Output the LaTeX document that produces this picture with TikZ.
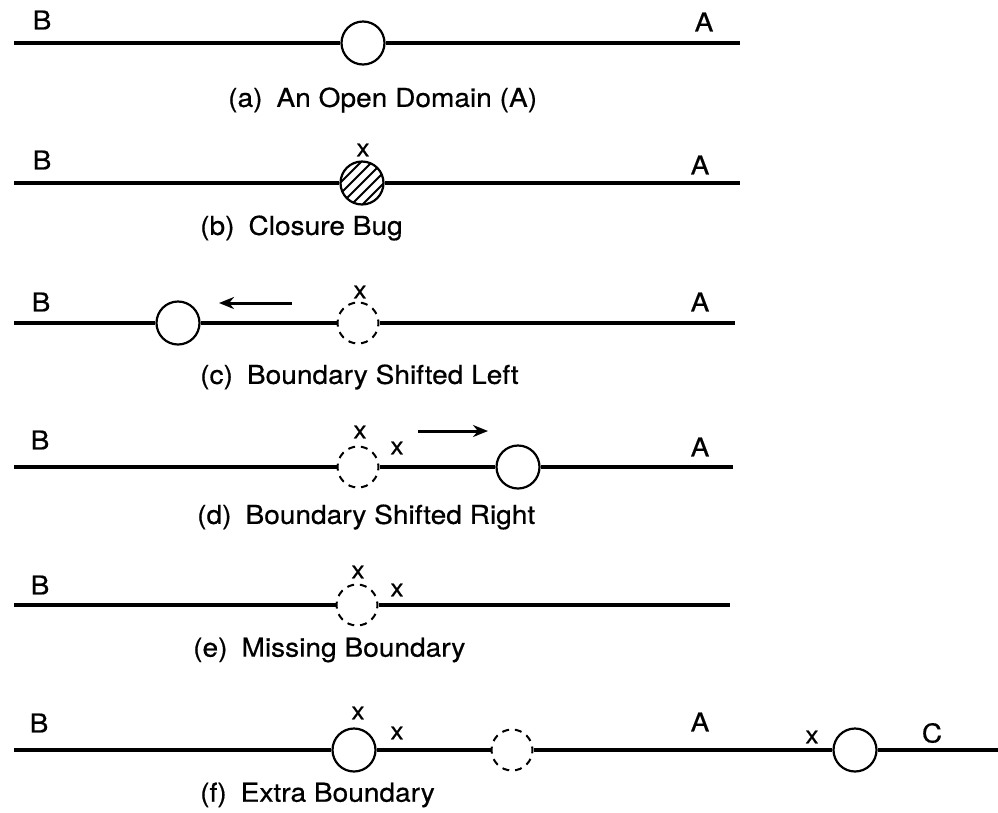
\documentclass[tikz,border=0pt]{standalone}
\usepackage{fontspec}
\setmainfont{TeX Gyre Heros}[FakeStretch=1.08, FakeBold=0.5]
\usetikzlibrary{arrows.meta}
\tikzset{
    bnd/.style={circle, draw=black, line width=2.2pt, minimum size=43pt, inner sep=0pt, fill=white},
    ghost/.style={circle, draw=black, dash pattern=on 7pt off 5.88pt, dash phase=3.5pt, line width=2pt, minimum size=41pt, inner sep=0pt},
    hatched/.style={bnd, path picture={
        \foreach \d in {-22,-11,...,22}
          \draw[line width=2pt] ([shift={(\d-30,30)}]path picture bounding box.center) -- ++(60,-60);}},
    domline/.style={line width=3.2pt},
    lbl/.style={font=\fontsize{26}{30}\selectfont, inner sep=0pt},
    xlbl/.style={font=\fontsize{24}{28}\selectfont, inner sep=0pt},
    capt/.style={font=\fontsize{26}{30}\selectfont, inner sep=0pt, anchor=west},
    arrow/.style={line width=3pt, -{Stealth[length=15pt,width=12pt]}},
}

\begin{document}
\begin{tikzpicture}[x=1pt,y=-1pt]
  \useasboundingbox (0,0) rectangle (998,812);

  % (a) open domain
  \coordinate (aS) at (14,43);
  \coordinate (aE) at (740,43);
  \node[bnd] (oa) at (363,43) {};
  \node[lbl] (aB) at (42,20) {B};
  \node[lbl] (aA) at (704,22) {A};
  \draw[domline] (aS) -- (oa.west);
  \draw[domline] (oa.east) -- (aE);
  \node[capt] (capa) at (228,100) {(a)\hspace{14pt}An Open Domain (A)};

  % (b) closure bug
  \coordinate (bS) at (14,183);
  \coordinate (bE) at (740,183);
  \node[hatched] (hb) at (362,183) {};
  \node[xlbl] (bx) at (363,150) {x};
  \node[lbl] (bB) at (42,160) {B};
  \node[lbl] (bA) at (700,165) {A};
  \draw[domline] (bS) -- (hb.west);
  \draw[domline] (hb.east) -- (bE);
  \node[capt] (capb) at (200,228) {(b)\hspace{14pt}Closure Bug};

  % (c) shifted left
  \coordinate (cS) at (14,323);
  \coordinate (cE) at (735,323);
  \node[bnd] (sc) at (178,323) {};
  \node[ghost] (gc) at (358,323) {};
  \node[xlbl] (cx) at (360,292) {x};
  \node[lbl] (cB) at (41,302) {B};
  \node[lbl] (cA) at (700,302) {A};
  \draw[domline] (cS) -- (sc.west);
  \draw[domline] (sc.east) -- (gc.west);
  \draw[domline] (gc.east) -- (cE);
  \coordinate (cArrS) at (292,303);
  \coordinate (cArrE) at (219,303);
  \draw[arrow] (cArrS) -- (cArrE);
  \node[capt] (capc) at (200,377) {(c)\hspace{14pt}Boundary Shifted Left};

  % (d) shifted right
  \coordinate (dS) at (14,467);
  \coordinate (dE) at (733,467);
  \node[ghost] (gd) at (358,467) {};
  \node[bnd] (sd) at (518,467) {};
  \node[xlbl] (dx1) at (360,432) {x};
  \node[xlbl] (dx2) at (397,448) {x};
  \node[lbl] (dB) at (40,440) {B};
  \node[lbl] (dA) at (700,447) {A};
  \draw[domline] (dS) -- (gd.west);
  \draw[domline] (gd.east) -- (sd.west);
  \draw[domline] (sd.east) -- (dE);
  \coordinate (dArrS) at (418,431);
  \coordinate (dArrE) at (488,431);
  \draw[arrow] (dArrS) -- (dArrE);
  \node[capt] (capd) at (197,517) {(d)\hspace{14pt}Boundary Shifted Right};

  % (e) missing boundary
  \coordinate (eS) at (14,605);
  \coordinate (eE) at (730,605);
  \node[ghost] (ge) at (357,605) {};
  \node[xlbl] (ex1) at (358,572) {x};
  \node[xlbl] (ex2) at (397,590) {x};
  \node[lbl] (eB) at (40,585) {B};
  \draw[domline] (eS) -- (ge.west);
  \draw[domline] (ge.east) -- (eE);
  \node[capt] (cape) at (193,650) {(e)\hspace{14pt}Missing Boundary};

  % (f) extra boundary
  \coordinate (fS) at (14,750);
  \coordinate (fE) at (998,750);
  \node[bnd] (sf1) at (354,750) {};
  \node[ghost] (gf) at (512,750) {};
  \node[bnd] (sf2) at (855,750) {};
  \node[xlbl] (fx1) at (358,713) {x};
  \node[xlbl] (fx2) at (397,733) {x};
  \node[xlbl] (fx3) at (812,737) {x};
  \node[lbl] (fB) at (39,723) {B};
  \node[lbl] (fA) at (700,722) {A};
  \node[lbl] (fC) at (932,733) {C};
  \draw[domline] (fS) -- (sf1.west);
  \draw[domline] (sf1.east) -- (gf.west);
  \draw[domline] (gf.east) -- (sf2.west);
  \draw[domline] (sf2.east) -- (fE);
  \node[capt] (capf) at (200,795) {(f)\hspace{14pt}Extra Boundary};
\end{tikzpicture}
\end{document}
